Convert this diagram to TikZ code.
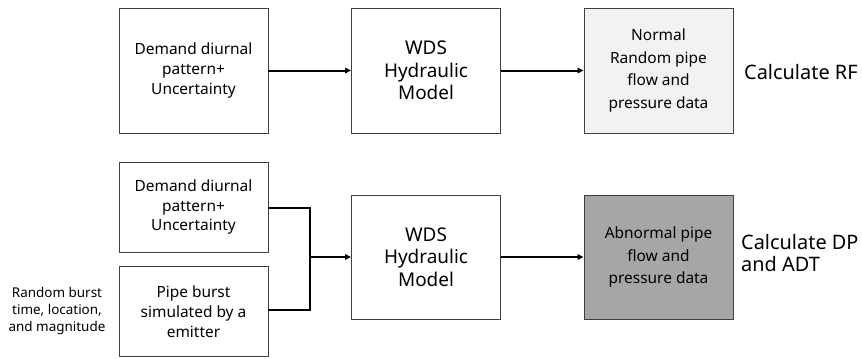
\documentclass[tikz,border=0pt]{standalone}
\usepackage{fontspec}
\setmainfont{Noto Sans}
\usetikzlibrary{arrows.meta}
\begin{document}
\begin{tikzpicture}[x=1bp,y=-1bp,
  box/.style={draw=black!75,line width=0.9bp,minimum width=149bp,minimum height=125bp,inner sep=0pt,align=center,font=\fontsize{15.5}{20}\selectfont},
  widebox/.style={box,font=\fontsize{15.5}{22.5}\selectfont},
  bigbox/.style={box,font=\fontsize{19}{22.5}\selectfont},
  smallbox/.style={box,minimum height=90bp},
  lbl/.style={align=left,anchor=west,font=\fontsize{20}{23}\selectfont,inner sep=0pt},
  conn/.style={line width=2bp,-{Triangle[length=6bp,width=5.5bp]}},
  line/.style={line width=1.6bp}]
\useasboundingbox (0,0) rectangle (862,358);
% top row
\node[box] (d1) at (193.5,70.5) {Demand diurnal\\pattern+\\Uncertainty};
\node[bigbox] (w1) at (426,70.5) {WDS\\Hydraulic\\Model};
\node[widebox,fill=black!5] (n1) at (658.5,70.5) {Normal\\Random pipe\\flow and\\pressure data};
\node[lbl] (rf) at (744,72) {Calculate RF};
\draw[conn] (d1) -- (w1);
\draw[conn] (w1) -- (n1);
% bottom row
\node[smallbox] (d2) at (193.5,207) {Demand diurnal\\pattern+\\Uncertainty};
\node[smallbox] (p2) at (193.5,311.5) {Pipe burst\\simulated by a\\emitter};
\node[bigbox,minimum height=124bp] (w2) at (426,257) {WDS\\Hydraulic\\Model};
\node[widebox,fill=black!35,minimum height=124bp] (a2) at (658.5,257) {Abnormal pipe\\flow and\\pressure data};
\node[lbl] (dp) at (741,253) {Calculate DP\\and ADT};
\node[align=center,inner sep=0pt,font=\fontsize{13.5}{17}\selectfont] (rb) at (57,311) {Random burst\\time, location,\\and magnitude};
\coordinate (j) at (310,257);
\draw[line] (d2.east |- 0,208) -| (j);
\draw[line] (p2.east |- 0,310) -| (j);
\draw[conn] (j) -- (w2);
\draw[conn] (w2) -- (a2);
\end{tikzpicture}
\end{document}
